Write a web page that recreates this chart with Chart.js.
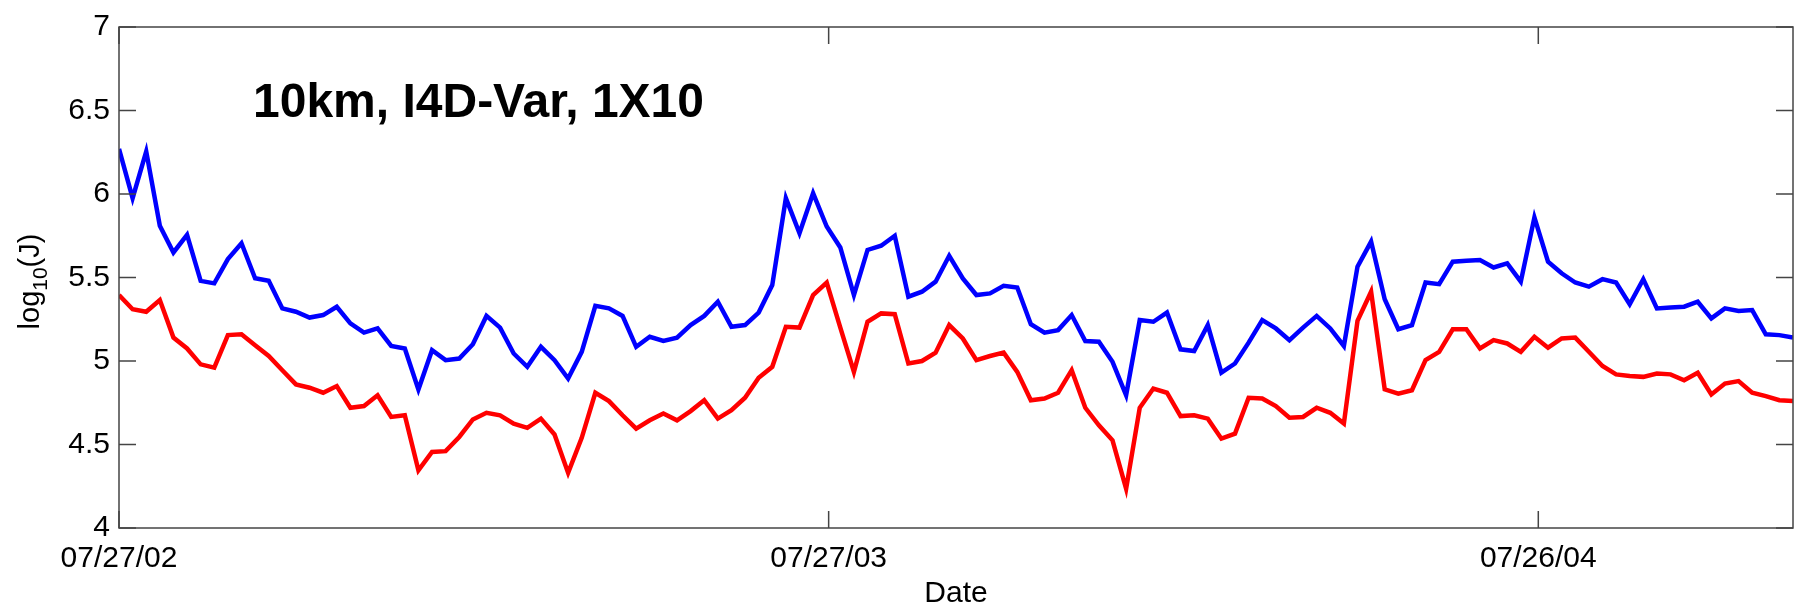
<!DOCTYPE html>
<html lang="en">
<head>
  <meta charset="UTF-8">
  <title>10km, I4D-Var, 1X10</title>
  <style>
    body {
      margin: 0;
      background: #fff;
    }
    #wrap {
      width: 1794px;
      height: 613px;
    }
  </style>
</head>
<body>
  <div id="wrap">
    <canvas id="costChart" width="1794" height="613"></canvas>
  </div>

  <script src="https://cdn.jsdelivr.net/npm/chart.js"></script>
  <script>
    // weekly cost function values, log10(J), starting 07/27/02
    const stepDays = 7;

    const blueJ = [
      6.27, 5.975, 6.255, 5.81, 5.65, 5.755, 5.48, 5.465, 5.61, 5.705,
      5.495, 5.48, 5.315, 5.295, 5.26, 5.275, 5.325, 5.225, 5.17, 5.195,
      5.09, 5.075, 4.83, 5.065, 5.005, 5.015, 5.10, 5.27, 5.20, 5.045,
      4.965, 5.085, 5.005, 4.895, 5.055, 5.33, 5.315, 5.27, 5.085, 5.145,
      5.12, 5.14, 5.215, 5.27, 5.355, 5.205, 5.215, 5.29, 5.455, 5.975,
      5.765, 6.005, 5.805, 5.68, 5.395, 5.665, 5.69, 5.75, 5.385, 5.415,
      5.475, 5.63, 5.495, 5.395, 5.405, 5.45, 5.44, 5.22, 5.17, 5.185,
      5.275, 5.12, 5.115, 4.995, 4.795, 5.245, 5.235, 5.29, 5.07, 5.06,
      5.215, 4.93, 4.985, 5.11, 5.245, 5.195, 5.125, 5.20, 5.27, 5.195,
      5.09, 5.565, 5.715, 5.37, 5.19, 5.215, 5.47, 5.46, 5.595, 5.60,
      5.605, 5.56, 5.585, 5.475, 5.86, 5.595, 5.525, 5.47, 5.445, 5.49,
      5.47, 5.34, 5.49, 5.315, 5.32, 5.325, 5.355, 5.255, 5.315, 5.30,
      5.305, 5.16, 5.155, 5.14
    ];

    const redJ = [
      5.395, 5.31, 5.295, 5.365, 5.14, 5.075, 4.98, 4.96, 5.155, 5.16,
      5.095, 5.03, 4.945, 4.86, 4.84, 4.81, 4.85, 4.72, 4.73, 4.795,
      4.665, 4.675, 4.345, 4.455, 4.46, 4.545, 4.65, 4.69, 4.675, 4.625,
      4.60, 4.655, 4.56, 4.33, 4.54, 4.81, 4.76, 4.675, 4.595, 4.645,
      4.685, 4.645, 4.70, 4.765, 4.655, 4.705, 4.78, 4.90, 4.965, 5.205,
      5.20, 5.395, 5.47, 5.20, 4.935, 5.235, 5.285, 5.28, 4.985, 5.00,
      5.05, 5.215, 5.135, 5.005, 5.03, 5.05, 4.935, 4.765, 4.775, 4.81,
      4.945, 4.72, 4.615, 4.525, 4.235, 4.72, 4.835, 4.81, 4.67, 4.675,
      4.655, 4.535, 4.565, 4.78, 4.775, 4.73, 4.66, 4.665, 4.72, 4.69,
      4.625, 5.24, 5.415, 4.83, 4.805, 4.825, 5.005, 5.055, 5.19, 5.19,
      5.075, 5.125, 5.105, 5.055, 5.145, 5.08, 5.135, 5.14, 5.055, 4.97,
      4.92, 4.91, 4.905, 4.925, 4.92, 4.885, 4.93, 4.80, 4.865, 4.88,
      4.81, 4.79, 4.765, 4.76
    ];

    const xTickDays = [0, 365, 730];
    const xTickLabels = ['07/27/02', '07/27/03', '07/26/04'];
    const yTickValues = [4, 4.5, 5, 5.5, 6, 6.5, 7];

    const FONT = '"Liberation Sans", Arial, Helvetica, sans-serif';

    function toPoints(arr) {
      return arr.map((v, i) => ({ x: i * stepDays, y: v }));
    }

    // matlab style box, inward ticks, title and y label
    const matlabAxes = {
      id: 'matlabAxes',
      afterDatasetsDraw(chart) {
        const ctx = chart.ctx;
        const a = chart.chartArea;
        const xs = chart.scales.x;
        const ys = chart.scales.y;
        const tl = 17;

        ctx.save();
        ctx.strokeStyle = '#444';
        ctx.lineWidth = 1.5;
        ctx.strokeRect(a.left, a.top, a.right - a.left, a.bottom - a.top);

        ctx.beginPath();
        yTickValues.forEach(v => {
          const py = ys.getPixelForValue(v);
          ctx.moveTo(a.left, py); ctx.lineTo(a.left + tl, py);
          ctx.moveTo(a.right, py); ctx.lineTo(a.right - tl, py);
        });
        xTickDays.forEach(v => {
          const px = xs.getPixelForValue(v);
          ctx.moveTo(px, a.bottom); ctx.lineTo(px, a.bottom - tl);
          ctx.moveTo(px, a.top); ctx.lineTo(px, a.top + tl);
        });
        ctx.stroke();

        // title inside the axes
        ctx.fillStyle = '#000';
        ctx.font = 'bold 48px ' + FONT;
        ctx.textAlign = 'left';
        ctx.textBaseline = 'alphabetic';
        ctx.fillText('10km, I4D-Var, 1X10', 253, 117);

        // y label log10(J) with subscript
        const cy = (a.top + a.bottom) / 2 + 4;
        ctx.translate(39, cy);
        ctx.rotate(-Math.PI / 2);
        const big = '29px ' + FONT;
        const small = '21px ' + FONT;
        ctx.font = big;
        const w1 = ctx.measureText('log').width;
        const w3 = ctx.measureText('(J)').width;
        ctx.font = small;
        const w2 = ctx.measureText('10').width;
        let x = -(w1 + w2 + w3) / 2;
        ctx.font = big;
        ctx.fillText('log', x, 0);
        x += w1;
        ctx.font = small;
        ctx.fillText('10', x, 8);
        x += w2;
        ctx.font = big;
        ctx.fillText('(J)', x, 0);
        ctx.restore();
      }
    };

    const ctx = document.getElementById('costChart').getContext('2d');
    new Chart(ctx, {
      type: 'line',
      data: {
        datasets: [
          {
            label: 'red',
            data: toPoints(redJ),
            borderColor: '#ff0000',
            borderWidth: 4.5,
            pointRadius: 0,
            tension: 0
          },
          {
            label: 'blue',
            data: toPoints(blueJ),
            borderColor: '#0000ff',
            borderWidth: 4.5,
            pointRadius: 0,
            tension: 0
          }
        ]
      },
      options: {
        responsive: false,
        animation: false,
        devicePixelRatio: 1,
        layout: { padding: { top: 17, right: 1, left: 0, bottom: 0 } },
        plugins: {
          legend: { display: false },
          tooltip: { enabled: false }
        },
        scales: {
          x: {
            type: 'linear',
            min: 0,
            max: (blueJ.length - 1) * stepDays,
            afterBuildTicks: axis => {
              axis.ticks = xTickDays.map(v => ({ value: v }));
            },
            afterFit: s => { s.height = 85; },
            grid: { display: false, drawTicks: false },
            border: { display: false },
            ticks: {
              autoSkip: false,
              maxRotation: 0,
              padding: 13,
              color: '#000',
              font: { size: 30, family: FONT },
              callback: v => xTickLabels[xTickDays.indexOf(v)]
            },
            title: {
              display: true,
              text: 'Date',
              color: '#000',
              font: { size: 30, family: FONT },
              padding: { top: 0, bottom: 1 }
            }
          },
          y: {
            min: 4,
            max: 7,
            afterBuildTicks: axis => {
              axis.ticks = yTickValues.map(v => ({ value: v }));
            },
            afterFit: s => { s.width = 119; },
            grid: { display: false, drawTicks: false },
            border: { display: false },
            ticks: {
              padding: 9,
              color: '#000',
              font: { size: 30, family: FONT },
              callback: v => String(v)
            }
          }
        }
      },
      plugins: [matlabAxes]
    });
  </script>
</body>
</html>
